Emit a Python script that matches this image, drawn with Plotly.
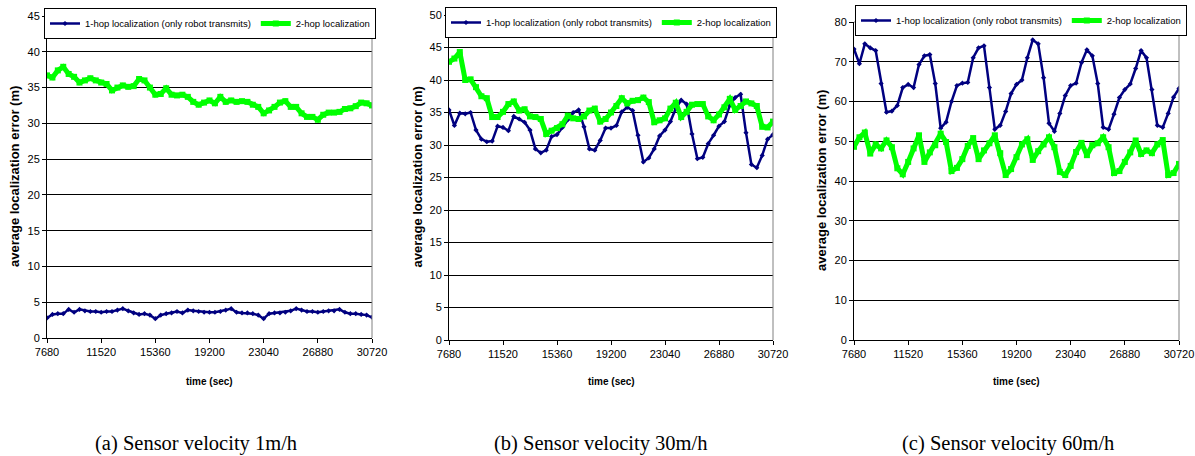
import plotly.graph_objects as go

# ---------------- data ----------------
TIME = list(range(7680, 30721, 384))
X_TICKS = [7680, 11520, 15360, 19200, 23040, 26880, 30720]

NAME_1HOP = "1-hop localization (only robot transmits)"
NAME_2HOP = "2-hop localization"

# (a) sensor velocity 1 m/h
a_1hop = [2.8, 3.3, 3.4, 3.4, 4.0, 3.6, 4.0, 3.8, 3.7, 3.7,
          3.6, 3.7, 3.7, 3.9, 4.1, 3.8, 3.5, 3.3, 3.4, 3.2,
          2.7, 3.2, 3.4, 3.5, 3.7, 3.5, 3.9, 3.8, 3.7, 3.6,
          3.6, 3.6, 3.7, 3.9, 4.1, 3.6, 3.5, 3.5, 3.4, 3.2,
          2.7, 3.4, 3.5, 3.5, 3.6, 3.8, 4.1, 3.9, 3.7, 3.7,
          3.6, 3.7, 3.8, 3.8, 4.0, 3.6, 3.4, 3.4, 3.3, 3.2,
          2.9]
a_2hop = [36.7, 36.4, 37.4, 37.9, 36.9, 36.5, 35.7, 36.0, 36.3, 36.0,
          35.7, 35.5, 34.6, 35.0, 35.3, 35.1, 35.2, 36.2, 36.0, 35.0,
          34.0, 34.1, 34.9, 34.0, 33.9, 34.0, 33.7, 33.0, 32.6, 32.9,
          33.2, 32.8, 33.7, 33.0, 33.2, 33.0, 33.1, 33.0, 32.6, 32.3,
          31.4, 31.8, 32.3, 32.9, 33.1, 32.3, 32.3, 31.4, 30.9, 30.9,
          30.5, 31.2, 31.5, 31.5, 31.6, 32.0, 32.1, 32.4, 32.9, 32.8,
          32.5]

# (b) sensor velocity 30 m/h
b_1hop = [35.4, 33.0, 34.9, 34.8, 35.0, 32.3, 30.9, 30.5, 30.6, 32.9,
          32.7, 32.2, 34.4, 34.0, 33.5, 32.3, 29.4, 28.8, 29.2, 31.3,
          31.6, 32.7, 33.9, 35.0, 35.4, 32.8, 29.4, 29.2, 30.7, 32.6,
          32.6, 33.0, 35.1, 35.8, 35.3, 31.5, 27.4, 28.0, 29.4, 31.4,
          32.3, 33.6, 35.6, 36.9, 36.3, 31.7, 27.9, 28.1, 30.2, 31.5,
          32.9, 33.6, 36.1, 37.3, 37.8, 31.9, 27.0, 26.5, 28.4, 30.9,
          31.6]
b_2hop = [42.8, 43.3, 44.3, 40.0, 40.1, 38.9, 37.5, 37.2, 34.3, 34.3,
          35.1, 36.3, 36.7, 35.3, 35.5, 34.4, 34.3, 34.0, 31.7, 32.2,
          32.6, 33.2, 34.5, 34.1, 34.0, 34.4, 35.3, 35.6, 33.6, 34.0,
          35.0, 36.0, 37.2, 36.4, 36.8, 36.9, 37.3, 36.6, 33.5, 33.8,
          34.1, 35.6, 36.5, 34.3, 35.1, 36.2, 36.3, 36.3, 34.4, 33.8,
          34.7, 35.8, 37.1, 35.4, 36.0, 36.7, 36.4, 36.0, 32.8, 32.7,
          33.6]

# (c) sensor velocity 60 m/h
c_1hop = [73.2, 69.5, 74.5, 73.5, 72.8, 64.5, 57.3, 57.6, 59.0, 63.5,
          64.3, 63.5, 69.3, 71.5, 71.8, 64.5, 53.3, 54.8, 60.0, 64.0,
          64.6, 64.8, 71.0, 73.5, 74.0, 63.5, 53.0, 54.0, 57.5, 62.0,
          64.3, 65.4, 71.0, 75.5, 74.5, 66.0, 54.5, 52.5, 57.0, 61.5,
          64.0, 64.6, 69.8, 73.0, 71.5, 64.5, 53.5, 53.0, 56.8, 61.0,
          63.0, 64.4, 68.3, 72.8, 71.0, 63.0, 54.0, 53.5, 57.0, 61.1,
          63.3]
c_2hop = [48.6, 51.0, 52.2, 46.9, 49.2, 48.2, 50.2, 48.5, 43.2, 41.7,
          44.8, 48.2, 51.5, 44.8, 47.2, 49.0, 51.9, 49.8, 42.5, 43.3,
          45.5, 48.8, 50.8, 45.5, 47.7, 49.5, 51.5, 47.0, 41.5, 43.0,
          46.0, 49.2, 50.5, 45.3, 47.5, 49.2, 51.0, 48.5, 42.3, 41.5,
          43.8, 47.3, 49.6, 46.5, 49.0, 49.5, 51.0, 48.5, 42.0, 42.5,
          44.8, 47.2, 50.2, 46.8, 47.7, 47.0, 49.2, 50.3, 41.5, 42.0,
          44.3]

PANELS = [
    {"one": a_1hop, "two": a_2hop, "ymax": 45, "dtick": 5,
     "caption": "(a) Sensor velocity 1m/h"},
    {"one": b_1hop, "two": b_2hop, "ymax": 50, "dtick": 5,
     "caption": "(b) Sensor velocity 30m/h"},
    {"one": c_1hop, "two": c_2hop, "ymax": 80, "dtick": 10,
     "caption": "(c) Sensor velocity 60m/h"},
]

# ---------------- layout geometry (pixels) ----------------
W, H = 1195, 456
PLOT_X = [(47, 372), (449, 773), (854, 1179)]
PLOT_Y = [(16, 338), (15, 340), (22, 340)]
LEGEND_CENTER = [(210, 8), (611, 7), (1021, 5)]
YTITLE_X = [15, 417, 822]
CAPTION_X = [196, 601, 1008]

BLUE = "#000080"
GREEN = "#00FF00"
SANS = "Liberation Sans, Arial"
SERIF = "Liberation Serif, Times New Roman, serif"

def px_x(p):
    return p / W

def px_y(p):
    return 1 - p / H

fig = go.Figure()
layout = dict(
    width=W, height=H, autosize=False,
    margin=dict(l=0, r=0, t=0, b=0, autoexpand=False),
    paper_bgcolor="white", plot_bgcolor="white",
    annotations=[], shapes=[],
)

for i, pan in enumerate(PANELS):
    n = "" if i == 0 else str(i + 1)
    leg = "legend" if i == 0 else f"legend{i + 1}"
    fig.add_trace(go.Scatter(
        x=TIME, y=pan["one"], name=NAME_1HOP, mode="lines+markers",
        line=dict(color=BLUE, width=2.5),
        marker=dict(symbol="diamond", size=4, color=BLUE),
        xaxis="x" + n, yaxis="y" + n, legend=leg, showlegend=True))
    fig.add_trace(go.Scatter(
        x=TIME, y=pan["two"], name=NAME_2HOP, mode="lines+markers",
        line=dict(color=GREEN, width=5),
        marker=dict(symbol="square", size=6, color=GREEN),
        xaxis="x" + n, yaxis="y" + n, legend=leg, showlegend=True))

    x0, x1 = PLOT_X[i]
    yt, yb = PLOT_Y[i]
    layout["xaxis" + n] = dict(
        domain=[px_x(x0), px_x(x1)], anchor="y" + n,
        range=[TIME[0], TIME[-1]], tickvals=X_TICKS,
        ticktext=[str(v) for v in X_TICKS],
        ticks="outside", ticklen=4, tickcolor="black",
        showline=True, linecolor="black", linewidth=1,
        showgrid=False, zeroline=False,
        tickfont=dict(family=SANS, size=11, color="black"),
    )
    layout["yaxis" + n] = dict(
        domain=[px_y(yb), px_y(yt)], anchor="x" + n,
        range=[0, pan["ymax"]], dtick=pan["dtick"], tick0=0,
        ticks="outside", ticklen=4, tickcolor="black",
        showline=True, linecolor="black", linewidth=1,
        showgrid=True, gridcolor="black", gridwidth=1, zeroline=False,
        tickfont=dict(family=SANS, size=11, color="black"),
    )
    lx, ly = LEGEND_CENTER[i]
    layout[leg] = dict(
        x=px_x(lx), y=px_y(ly), xanchor="center", yanchor="top",
        orientation="h", bgcolor="white", bordercolor="black", borderwidth=1,
        font=dict(family=SANS, size=9.5, color="black"),
        itemwidth=30, tracegroupgap=0,
    )
    # gray plot-area border (top and right)
    xd = "x" + n + " domain"
    yd = "y" + n + " domain"
    layout["shapes"].append(dict(type="line", xref=xd, yref=yd, x0=0, x1=1, y0=1, y1=1,
                                 line=dict(color="#808080", width=1), layer="above"))
    layout["shapes"].append(dict(type="line", xref=xd, yref=yd, x0=1, x1=1, y0=0, y1=1,
                                 line=dict(color="#808080", width=1), layer="above"))
    # axis titles
    layout["annotations"].append(dict(
        text="<b>average localization error (m)</b>", textangle=-90,
        x=px_x(YTITLE_X[i]), y=px_y((yt + yb) / 2), xref="paper", yref="paper",
        showarrow=False, xanchor="center", yanchor="middle",
        font=dict(family=SANS, size=13, color="black")))
    layout["annotations"].append(dict(
        text="<b>time (sec)</b>",
        x=px_x((x0 + x1) / 2), y=px_y(381), xref="paper", yref="paper",
        showarrow=False, xanchor="center", yanchor="middle",
        font=dict(family=SANS, size=10, color="black")))
    layout["annotations"].append(dict(
        text=pan["caption"],
        x=px_x(CAPTION_X[i]), y=px_y(443), xref="paper", yref="paper",
        showarrow=False, xanchor="center", yanchor="middle",
        font=dict(family=SERIF, size=20.5, color="black")))

fig.update_layout(**layout)
fig.write_html(
    "out.html",
    config={"displayModeBar": False},
    post_script="document.body.style.margin='0';document.body.style.overflow='hidden';",
)
